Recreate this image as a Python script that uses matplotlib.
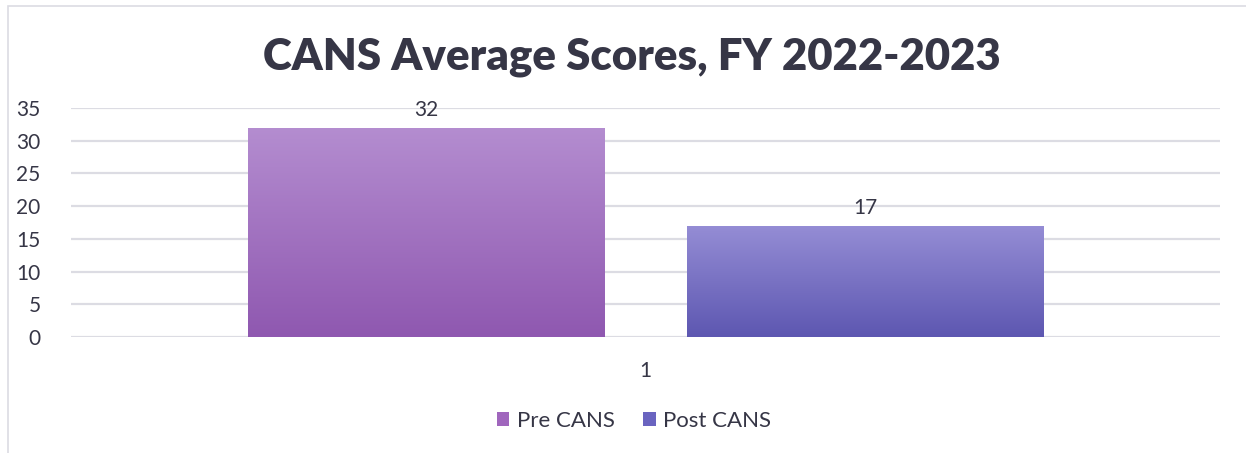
import matplotlib
matplotlib.use("Agg")
import matplotlib.pyplot as plt
import numpy as np
from matplotlib.patches import Rectangle, Patch
from matplotlib.colors import LinearSegmentedColormap

# Data
categories = ["1"]
series_names = ["Pre CANS", "Post CANS"]
pre_values = [32]
post_values = [17]
y_ticks = [0, 5, 10, 15, 20, 25, 30, 35]
title = "CANS Average Scores, FY 2022-2023"

# Gradient fills (top colour, bottom colour) for each series
gradients = {
    "Pre CANS": ("#b48dd0", "#8f58b0"),
    "Post CANS": ("#958dd5", "#5d57b1"),
}
legend_colors = {"Pre CANS": "#a066bd", "Post CANS": "#6a64c0"}

text_color = "#363646"
grid_color = "#dcdce3"
font = "Lato"

fig = plt.figure(figsize=(12.46, 4.53), dpi=100)
W, H = 1246, 453

# Chart frame border
fig.patches.append(Rectangle((8 / W, -0.1), 1.2, (H - 6) / H + 0.1,
                             transform=fig.transFigure, fill=False,
                             edgecolor=grid_color, linewidth=1.2))

ax = fig.add_axes([71 / W, (H - 337) / H, (1220 - 71) / W, (337 - 108) / H])
ax.set_xlim(-0.5, 0.5)
ax.set_ylim(0, 35)
for s in ax.spines.values():
    s.set_visible(False)
ax.set_yticks(y_ticks)
ax.grid(axis="y", color=grid_color, linewidth=1.6)
ax.set_axisbelow(True)
ax.tick_params(axis="both", length=0, labelsize=15, labelcolor=text_color)
ax.tick_params(axis="y", pad=22)
ax.tick_params(axis="x", pad=17)
ax.set_xticks(range(len(categories)))
ax.set_xticklabels(categories)
for lbl in ax.get_xticklabels() + ax.get_yticklabels():
    lbl.set_fontfamily(font)

width = 0.31
offsets = [-0.191, 0.191]
x = np.arange(len(categories))
for name, vals, off in zip(series_names, [pre_values, post_values], offsets):
    bars = ax.bar(x + off, vals, width, color="none", edgecolor="none", zorder=2)
    top_c, bot_c = gradients[name]
    cmap = LinearSegmentedColormap.from_list(name, [bot_c, top_c])
    for b, v in zip(bars, vals):
        x0, w = b.get_x(), b.get_width()
        grad = np.linspace(0, 1, 256).reshape(-1, 1)
        im = ax.imshow(grad, cmap=cmap, origin="lower", aspect="auto",
                       extent=[x0, x0 + w, 0, b.get_height()], zorder=3)
        im.set_clip_path(b)
        ax.text(x0 + w / 2, v + 1.2, f"{v}", ha="center", va="bottom",
                fontsize=15, color=text_color, family=font)
ax.set_xlim(-0.5, 0.5)
ax.set_ylim(0, 35)

fig.text(632 / W, (H - 57) / H, title, ha="center", va="center", fontsize=31.5,
         fontweight="heavy", color=text_color, family=font)

handles = [Patch(facecolor=legend_colors[n], edgecolor="none") for n in series_names]
leg = fig.legend(handles, series_names, loc="center", bbox_to_anchor=(634 / W, (H - 421) / H),
                 ncol=2, frameon=False, handlelength=0.55, handleheight=0.55,
                 handletextpad=0.35, columnspacing=1.3, prop={"family": font, "size": 16})
for t in leg.get_texts():
    t.set_color(text_color)

fig.savefig("out.png", dpi=100)
